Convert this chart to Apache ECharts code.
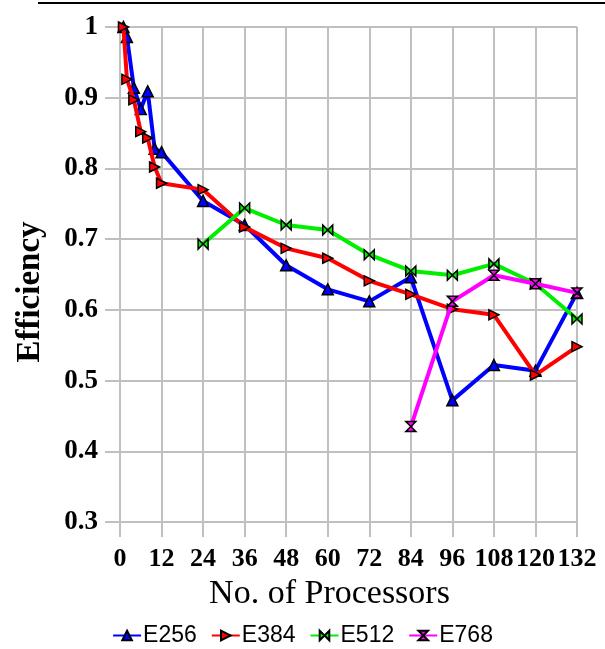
<!DOCTYPE html>
<html><head><meta charset="utf-8">
<script src="https://cdn.jsdelivr.net/npm/echarts@6/dist/echarts.min.js"></script>
<style>html,body{margin:0;padding:0;background:#fff}#c{width:605px;height:649px}</style>
</head><body><div id="c"></div>
<script>
const seriesNames = ['E256', 'E384', 'E512', 'E768'];
const e256X = [1, 2, 4, 6, 8, 10, 12, 24, 36, 48, 60, 72, 84, 96, 108, 120, 132];
const e256Y = [1.0, 0.986, 0.914, 0.884, 0.909, 0.828, 0.823, 0.754, 0.72, 0.663, 0.629, 0.612, 0.646, 0.472, 0.522, 0.514, 0.624];
const e384X = [1, 2, 4, 6, 8, 10, 12, 24, 36, 48, 60, 72, 84, 96, 108, 120, 132];
const e384Y = [1.0, 0.926, 0.897, 0.852, 0.843, 0.802, 0.779, 0.77, 0.717, 0.687, 0.673, 0.641, 0.622, 0.601, 0.593, 0.508, 0.548];
const e512X = [24, 36, 48, 60, 72, 84, 96, 108, 120, 132];
const e512Y = [0.693, 0.744, 0.72, 0.713, 0.678, 0.655, 0.649, 0.665, 0.637, 0.587];
const e768X = [84, 96, 108, 120, 132];
const e768Y = [0.435, 0.612, 0.649, 0.637, 0.624];
const xTicks = [0, 12, 24, 36, 48, 60, 72, 84, 96, 108, 120, 132];
const yTicks = [0.3, 0.4, 0.5, 0.6, 0.7, 0.8, 0.9, 1];

const colors = ['#0000ff', '#ff0000', '#00ee00', '#ff00ff'];
const symbols = [
  'triangle',
  'path://M0,0 L10,5 L0,10 Z',
  'path://M0,0 L5,5 L0,10 Z M10,0 L5,5 L10,10 Z',
  'path://M0,0 L10,0 L5,5 L10,10 L0,10 L5,5 Z'
];
const xs = [e256X, e384X, e512X, e768X];
const ys = [e256Y, e384Y, e512Y, e768Y];

const chart = echarts.init(document.getElementById('c'));
const serif = '"Liberation Serif", "Times New Roman", serif';
const gridColor = '#c0c0c0';
chart.setOption({
  animation: false,
  grid: { left: 120, right: 28, top: 27, bottom: 127, containLabel: false },
  xAxis: {
    type: 'value', min: xTicks[0], max: xTicks[xTicks.length - 1], interval: 12,
    name: 'No. of Processors', nameLocation: 'middle', nameGap: 54,
    nameTextStyle: { fontFamily: serif, fontSize: 34, color: '#000', padding: [0, 38, 0, 0] },
    axisLine: { show: true, lineStyle: { color: gridColor, width: 2 } },
    axisTick: { show: true, length: 15, lineStyle: { color: gridColor, width: 2 } },
    axisLabel: { fontFamily: serif, fontSize: 26, fontWeight: 'bold', color: '#000', margin: 24 },
    splitLine: { show: true, lineStyle: { color: gridColor, width: 2 } }
  },
  yAxis: {
    type: 'value', min: yTicks[0], max: yTicks[yTicks.length - 1], interval: 0.1,
    name: 'Efficiency', nameLocation: 'middle', nameGap: 73,
    nameTextStyle: { fontFamily: serif, fontSize: 33, fontWeight: 'bold', color: '#000', padding: [0, 35, 0, 0] },
    axisLine: { show: true, lineStyle: { color: gridColor, width: 2 } },
    axisTick: { show: true, length: 15, lineStyle: { color: gridColor, width: 2 } },
    axisLabel: { fontFamily: serif, fontSize: 27, fontWeight: 'bold', color: '#000', margin: 22,
      formatter: v => String(Math.round(v * 10) / 10) },
    splitLine: { show: true, lineStyle: { color: gridColor, width: 2 } }
  },
  legend: {
    top: 619, left: 'center', itemGap: 14, itemWidth: 28, itemHeight: 12,
    textStyle: { fontFamily: '"Liberation Sans", Arial, sans-serif', fontSize: 23, color: '#000', padding: [0, 0, 0, -3] },
    data: seriesNames
  },
  graphic: [{ type: 'line', shape: { x1: 38, y1: 3, x2: 605, y2: 3 }, style: { stroke: '#000', lineWidth: 2 } }],
  series: seriesNames.map((n, i) => ({
    name: n, type: 'line',
    data: xs[i].map((x, j) => [x, ys[i][j]]),
    color: colors[i],
    symbol: symbols[i], symbolSize: i === 0 ? 11 : 10,
    showAllSymbol: true,
    lineStyle: { width: 4, color: colors[i] },
    itemStyle: { color: colors[i], borderColor: '#000', borderWidth: 1.5 },
    z: 2 + i
  }))
});
</script></body></html>
